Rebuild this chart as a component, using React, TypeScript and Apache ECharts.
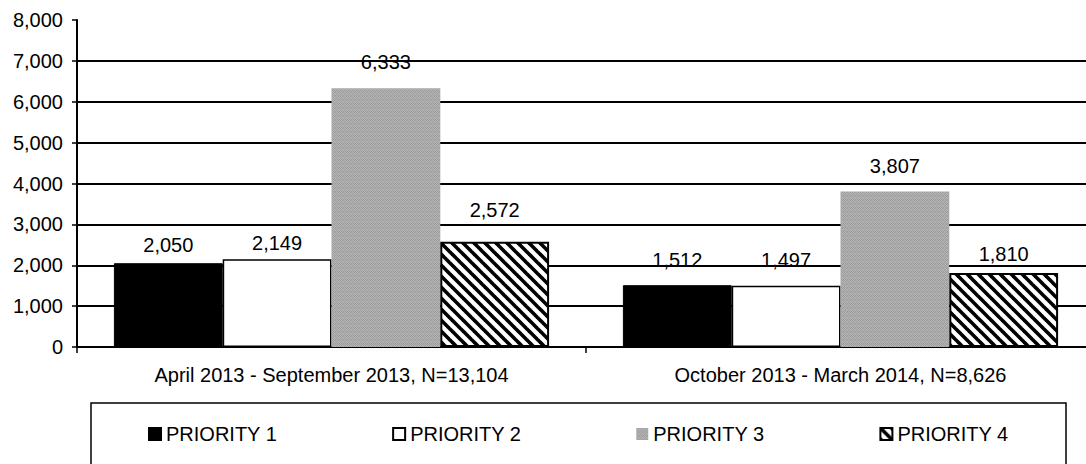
import React, { useEffect, useRef } from "react";
import * as echarts from "echarts";

const CATEGORIES = [
  "April 2013 - September 2013, N=13,104",
  "October 2013 - March 2014, N=8,626",
];
const SERIES_NAMES = ["PRIORITY 1", "PRIORITY 2", "PRIORITY 3", "PRIORITY 4"];
const PRIORITY_1 = [2050, 1512];
const PRIORITY_2 = [2149, 1497];
const PRIORITY_3 = [6333, 3807];
const PRIORITY_4 = [2572, 1810];
const Y_MIN = 0;
const Y_MAX = 8000;
const Y_STEP = 1000;

// label offsets above the bars (style only)
const LABEL_GAP = [
  [8, 15],
  [6, 16],
  [16, 15],
  [22, 9],
];

const FONT = "'Liberation Sans', Arial, Helvetica, sans-serif";

function hatchPattern(): any {
  const s = 11;
  const c = document.createElement("canvas");
  c.width = s;
  c.height = s;
  const ctx = c.getContext("2d")!;
  ctx.fillStyle = "#ffffff";
  ctx.fillRect(0, 0, s, s);
  ctx.strokeStyle = "#000000";
  ctx.lineWidth = 3.6;
  for (let k = -1; k <= 1; k++) {
    ctx.beginPath();
    ctx.moveTo(-2, -2 + k * s);
    ctx.lineTo(s + 2, s + 2 + k * s);
    ctx.stroke();
  }
  return { image: c, repeat: "repeat" };
}

function grayPattern(): any {
  const tones = [
    [0xa2, 0xb6, 0x9a, 0xae],
    [0xb2, 0x9e, 0xba, 0xa4],
    [0x9c, 0xb0, 0xa6, 0xb8],
    [0xb4, 0xa0, 0xae, 0x98],
  ];
  const c = document.createElement("canvas");
  c.width = 4;
  c.height = 4;
  const ctx = c.getContext("2d")!;
  for (let y = 0; y < 4; y++) {
    for (let x = 0; x < 4; x++) {
      const v = tones[y][x];
      ctx.fillStyle = `rgb(${v},${v},${v})`;
      ctx.fillRect(x, y, 1, 1);
    }
  }
  return { image: c, repeat: "repeat" };
}

const fmt = (v: number) => Number(v).toLocaleString("en-US");

export default function App() {
  const ref = useRef<HTMLDivElement>(null);

  useEffect(() => {
    if (!ref.current) return;
    const chart = echarts.init(ref.current, null, { renderer: "svg" });

    const values = [PRIORITY_1, PRIORITY_2, PRIORITY_3, PRIORITY_4];
    const styles: any[] = [
      { color: "#000000", borderColor: "#000000", borderWidth: 1 },
      { color: "#ffffff", borderColor: "#000000", borderWidth: 1.5 },
      { color: grayPattern(), borderColor: "#b0b0b0", borderWidth: 0 },
      { color: hatchPattern(), borderColor: "#000000", borderWidth: 2 },
    ];

    const series = SERIES_NAMES.map((name, si) => ({
      name,
      type: "bar",
      barGap: "0%",
      barCategoryGap: "14.5%",
      itemStyle: styles[si],
      data: values[si].map((v, ci) => ({
        value: v,
        label: { distance: LABEL_GAP[si][ci] },
      })),
      label: {
        show: true,
        position: "top",
        color: "#000",
        fontFamily: FONT,
        fontSize: 20,
        formatter: (p: any) => fmt(p.value),
      },
    }));

    chart.setOption({
      animation: false,
      backgroundColor: "#ffffff",
      grid: {
        left: 77,
        top: 20,
        width: 1018,
        height: 327,
        containLabel: false,
        outerBoundsMode: "none",
      },
      legend: {
        data: SERIES_NAMES,
        left: 148,
        top: 424,
        padding: 0,
        itemWidth: 12,
        itemHeight: 12,
        itemGap: 115,
        icon: "rect",
        textStyle: { color: "#000", fontFamily: FONT, fontSize: 20 },
      },
      xAxis: {
        type: "category",
        data: CATEGORIES,
        axisLine: { show: true, lineStyle: { color: "#000", width: 2 } },
        axisTick: { show: true, length: 6, lineStyle: { color: "#000", width: 1.5 } },
        axisLabel: { color: "#000", fontFamily: FONT, fontSize: 20, margin: 18 },
        splitLine: { show: false },
      },
      yAxis: {
        type: "value",
        min: Y_MIN,
        max: Y_MAX,
        interval: Y_STEP,
        axisLine: { show: true, lineStyle: { color: "#000", width: 2 } },
        axisTick: { show: true, length: 5, lineStyle: { color: "#000", width: 1.5 } },
        axisLabel: {
          color: "#000",
          fontFamily: FONT,
          fontSize: 20,
          margin: 14,
          formatter: (v: number) => fmt(v),
        },
        splitLine: {
          show: true,
          showMaxLine: false,
          lineStyle: { color: "#000", width: 2 },
        },
      },
      graphic: [
        {
          type: "rect",
          z: -1,
          shape: { x: 91, y: 403, width: 975, height: 90 },
          style: { fill: "none", stroke: "#000", lineWidth: 1.5 },
          silent: true,
        },
      ],
      series,
    });

    return () => chart.dispose();
  }, []);

  return (
    <div
      ref={ref}
      style={{ position: "fixed", left: 0, top: 0, width: 1086, height: 464, background: "#fff" }}
    />
  );
}
